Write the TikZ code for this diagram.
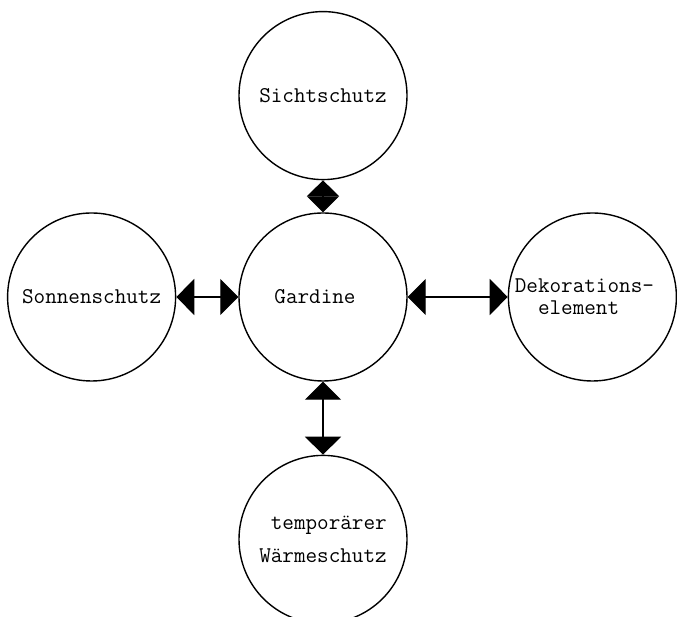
\documentclass[tikz,border=0pt]{standalone}
\usepackage{fontspec}
\usetikzlibrary{positioning}
\usetikzlibrary{arrows.meta}
\tikzset{main node/.style={circle,draw,line width=1.4pt,minimum size=168pt,inner sep=0pt,font=\ttfamily\fontsize{22.5}{22}\selectfont},}

\begin{document}
\begin{tikzpicture}[<->, >={Triangle[length=18pt,width=36pt]}, line width=1.2pt, node distance=60pt]
	\useasboundingbox (0,0) rectangle (677pt,617pt);
	\node[main node] (g) at (323pt,320pt) {\hspace*{-16pt}Gardine};
	\node[main node] (s) [above = 32pt of g] {Sichtschutz};
	\node[main node] (l) [left = 62pt of g] {Sonnenschutz};
	\node[main node, align=left] (d) [right = 100pt of g] {\hspace*{-16pt}Dekorations-\\\hspace*{-16pt}\ \ element};
	\node[main node, align=right] (w) [below = 73pt of g] {temporärer\\[11pt]Wärmeschutz};

	\draw[{Triangle[length=16pt,width=32pt]}-{Triangle[length=16pt,width=32pt]}] (g) -- (s);
	\draw (g) -- (l);
	\draw (g) -- (d);
	\draw (g) -- (w);
\end{tikzpicture}
\end{document}
